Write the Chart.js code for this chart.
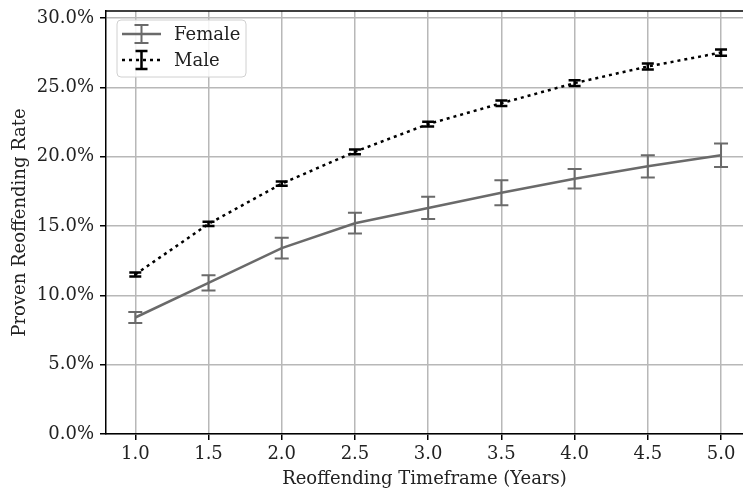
<!DOCTYPE html>
<html>
<head>
<meta charset="utf-8">
<script src="https://cdn.jsdelivr.net/npm/chart.js@4.4.0/dist/chart.umd.min.js"></script>
<style>
  body { margin: 0; background: #fff; }
</style>
</head>
<body>
<canvas id="chart" width="743" height="490"></canvas>
<script>
// reoffending timeframe in years
const years = [1.0, 1.5, 2.0, 2.5, 3.0, 3.5, 4.0, 4.5, 5.0];
// proven reoffending rate, percent
const femaleRate = [8.4, 10.9, 13.4, 15.2, 16.3, 17.4, 18.4, 19.3, 20.1];
const femaleErr  = [0.4, 0.55, 0.75, 0.75, 0.8, 0.9, 0.7, 0.8, 0.85];
const maleRate   = [11.5, 15.15, 18.05, 20.35, 22.35, 23.85, 25.3, 26.5, 27.5];
const maleErr    = [0.15, 0.15, 0.15, 0.17, 0.17, 0.2, 0.2, 0.22, 0.22];
const xTicks = [1.0, 1.5, 2.0, 2.5, 3.0, 3.5, 4.0, 4.5, 5.0];
const yTicks = [0, 5, 10, 15, 20, 25, 30];

const FONT = 'DejaVu Serif';
const FS = 18;
const femaleColor = '#6a6a6a';
const maleColor = '#000000';

function points(xs, ys) {
  return xs.map((x, i) => ({ x: x, y: ys[i] }));
}

// draws vertical error bars with caps, using the chart's own scales
const errorBars = {
  id: 'errorBars',
  afterDatasetsDraw(chart) {
    const ctx = chart.ctx;
    const xs = chart.scales.x;
    const ys = chart.scales.y;
    chart.data.datasets.forEach(ds => {
      ctx.save();
      ctx.strokeStyle = ds.borderColor;
      ctx.lineWidth = ds.errWidth;
      ds.errors.forEach((e, j) => {
        const px = xs.getPixelForValue(ds.data[j].x);
        const top = ys.getPixelForValue(ds.data[j].y + e);
        const bot = ys.getPixelForValue(ds.data[j].y - e);
        ctx.beginPath();
        ctx.moveTo(px, top); ctx.lineTo(px, bot);
        ctx.moveTo(px - ds.capSize, top); ctx.lineTo(px + ds.capSize, top);
        ctx.moveTo(px - ds.capSize, bot); ctx.lineTo(px + ds.capSize, bot);
        ctx.stroke();
      });
      ctx.restore();
    });
  }
};

// top spine + legend box in the upper left corner
const frameAndLegend = {
  id: 'frameAndLegend',
  afterDraw(chart) {
    const ctx = chart.ctx;
    const a = chart.chartArea;
    ctx.save();
    ctx.strokeStyle = '#000';
    ctx.lineWidth = 1.5;
    ctx.beginPath();
    ctx.moveTo(a.left, a.top);
    ctx.lineTo(a.right, a.top);
    ctx.stroke();

    const bx = a.left + 11, by = a.top + 9, bw = 129, bh = 57;
    ctx.fillStyle = 'rgba(255,255,255,0.85)';
    ctx.strokeStyle = '#d0d0d0';
    ctx.lineWidth = 1;
    ctx.beginPath();
    ctx.roundRect(bx, by, bw, bh, 4);
    ctx.fill();
    ctx.stroke();

    const entries = [
      { label: 'Female', ds: chart.data.datasets[0], y: by + 14 },
      { label: 'Male', ds: chart.data.datasets[1], y: by + 40 }
    ];
    entries.forEach(en => {
      const x0 = bx + 5, x1 = bx + 44, xm = (x0 + x1) / 2;
      ctx.strokeStyle = en.ds.borderColor;
      ctx.lineWidth = en.ds.borderWidth;
      ctx.setLineDash(en.ds.borderDash || []);
      ctx.beginPath();
      ctx.moveTo(x0, en.y); ctx.lineTo(x1, en.y);
      ctx.stroke();
      ctx.setLineDash([]);
      ctx.lineWidth = en.ds.errWidth;
      const h = 9, c = en.ds.capSize;
      ctx.beginPath();
      ctx.moveTo(xm, en.y - h); ctx.lineTo(xm, en.y + h);
      ctx.moveTo(xm - c, en.y - h); ctx.lineTo(xm + c, en.y - h);
      ctx.moveTo(xm - c, en.y + h); ctx.lineTo(xm + c, en.y + h);
      ctx.stroke();
      ctx.fillStyle = '#222';
      ctx.font = FS + 'px "' + FONT + '"';
      ctx.textBaseline = 'middle';
      ctx.fillText(en.label, bx + 57, en.y + 1);
    });
    ctx.restore();
  }
};

const ctx = document.getElementById('chart').getContext('2d');
const chart = new Chart(ctx, {
  type: 'line',
  data: {
    datasets: [
      {
        label: 'Female',
        data: points(years, femaleRate),
        errors: femaleErr,
        borderColor: femaleColor,
        borderWidth: 2.5,
        errWidth: 2,
        capSize: 7,
        pointRadius: 0,
        tension: 0
      },
      {
        label: 'Male',
        data: points(years, maleRate),
        errors: maleErr,
        borderColor: maleColor,
        borderWidth: 2.5,
        borderDash: [3, 4],
        errWidth: 2.5,
        capSize: 6,
        pointRadius: 0,
        tension: 0
      }
    ]
  },
  options: {
    responsive: false,
    animation: false,
    layout: { padding: { top: 11, right: 0, left: 0, bottom: 0 } },
    plugins: {
      legend: { display: false },
      tooltip: { enabled: false }
    },
    scales: {
      x: {
        type: 'linear',
        min: 0.8,
        max: 5.15,
        afterBuildTicks: s => { s.ticks = xTicks.map(v => ({ value: v })); },
        afterFit: s => { s.height = 56; s.paddingLeft = 0; s.paddingRight = 0; },
        grid: { color: '#b8b8b8', lineWidth: 1.5, tickColor: '#000', tickLength: 6, tickWidth: 1.5 },
        border: { color: '#000', width: 1.5 },
        ticks: {
          color: '#222',
          font: { family: FONT, size: FS },
          padding: 4,
          maxRotation: 0,
          callback: v => v.toFixed(1)
        },
        title: {
          display: true,
          text: 'Reoffending Timeframe (Years)',
          color: '#222',
          font: { family: FONT, size: FS },
          padding: { top: 0, bottom: 0 }
        }
      },
      y: {
        min: 0,
        max: 30.5,
        afterBuildTicks: s => { s.ticks = yTicks.map(v => ({ value: v })); },
        afterFit: s => { s.width = 106; s.paddingTop = 0; s.paddingBottom = 0; },
        grid: { color: '#b8b8b8', lineWidth: 1.5, tickColor: '#000', tickLength: 6, tickWidth: 1.5 },
        border: { color: '#000', width: 1.5 },
        ticks: {
          color: '#222',
          font: { family: FONT, size: FS },
          padding: 6,
          callback: v => v.toFixed(1) + '%'
        },
        title: {
          display: true,
          text: 'Proven Reoffending Rate',
          color: '#222',
          font: { family: FONT, size: FS },
          padding: { top: 10, bottom: 0 }
        }
      }
    }
  },
  plugins: [errorBars, frameAndLegend]
});
</script>
</body>
</html>
